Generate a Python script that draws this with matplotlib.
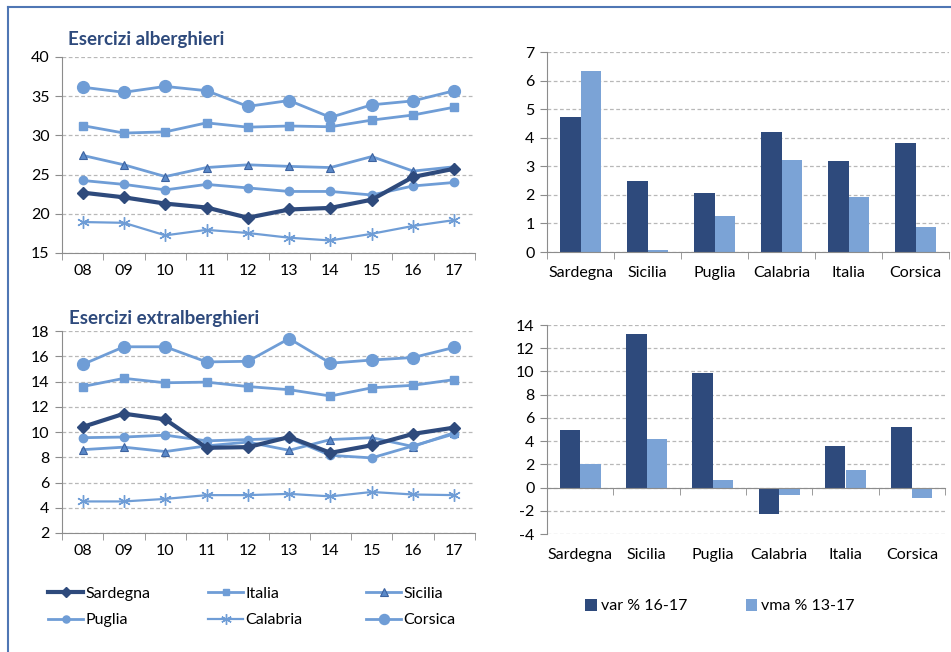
import numpy as np
import matplotlib.pyplot as plt
from matplotlib.lines import Line2D

plt.rcParams['font.family'] = ['Lato', 'DejaVu Sans']
plt.rcParams['axes.unicode_minus'] = False

# years and series (hotel / non-hotel)
years = ['08', '09', '10', '11', '12', '13', '14', '15', '16', '17']
alb_sardegna = [22.7, 22.1, 21.3, 20.8, 19.5, 20.55, 20.75, 21.8, 24.7, 25.75]
alb_italia = [31.25, 30.3, 30.45, 31.6, 31.05, 31.2, 31.1, 31.95, 32.6, 33.6]
alb_sicilia = [27.45, 26.25, 24.75, 25.9, 26.25, 26.05, 25.9, 27.3, 25.45, 26.0]
alb_puglia = [24.25, 23.75, 23.05, 23.75, 23.3, 22.85, 22.85, 22.4, 23.55, 24.0]
alb_calabria = [18.95, 18.85, 17.25, 17.95, 17.55, 16.95, 16.6, 17.45, 18.45, 19.2]
alb_corsica = [36.15, 35.5, 36.25, 35.7, 33.7, 34.45, 32.3, 33.9, 34.4, 35.7]

ext_sardegna = [10.4, 11.45, 11.0, 8.75, 8.8, 9.6, 8.35, 8.95, 9.85, 10.35]
ext_italia = [13.6, 14.25, 13.9, 13.95, 13.6, 13.35, 12.85, 13.5, 13.7, 14.15]
ext_sicilia = [8.6, 8.8, 8.45, 8.9, 9.2, 8.55, 9.4, 9.55, 8.85, 9.95]
ext_puglia = [9.55, 9.6, 9.75, 9.3, 9.4, 9.5, 8.15, 7.95, 8.9, 9.85]
ext_calabria = [4.5, 4.5, 4.7, 5.0, 5.0, 5.1, 4.9, 5.25, 5.05, 5.0]
ext_corsica = [15.35, 16.75, 16.75, 15.55, 15.6, 17.4, 15.45, 15.7, 15.9, 16.7]

regions = ['Sardegna', 'Sicilia', 'Puglia', 'Calabria', 'Italia', 'Corsica']
alb_var = [4.72, 2.48, 2.05, 4.21, 3.18, 3.82]
alb_vma = [6.34, 0.06, 1.26, 3.23, 1.92, 0.87]
ext_var = [5.0, 13.2, 9.84, -2.28, 3.57, 5.2]
ext_vma = [2.02, 4.22, 0.67, -0.64, 1.53, -0.93]

dark = '#2E4A7C'
light = '#6F9DD6'
barlight = '#7BA3D6'
gridc = '#B8B8B8'
axc = '#8C8C8C'
fs = 11.5

W, H = 951, 652
fig = plt.figure(figsize=(W / 100, H / 100), dpi=100)


def box(l, t, r, b):
    return [l / W, 1 - b / H, (r - l) / W, (b - t) / H]


def style(ax):
    for s in ['top', 'right']:
        ax.spines[s].set_visible(False)
    for s in ['left', 'bottom']:
        ax.spines[s].set_color(axc)
    ax.yaxis.grid(True, color=gridc, linestyle=(0, (3, 2)), linewidth=0.9)
    ax.set_axisbelow(True)
    ax.tick_params(axis='y', length=5, color=axc, labelsize=fs, pad=4)
    ax.tick_params(axis='x', which='major', length=0, labelsize=fs, pad=8)
    ax.tick_params(axis='x', which='minor', length=5, color=axc)


def line_chart(ax, s, ylim, yticks):
    x = np.arange(len(years))
    ax.plot(x, s[5], color=light, lw=2, marker='o', ms=8.5, label='Corsica')
    ax.plot(x, s[1], color=light, lw=2, marker='s', ms=5.5, label='Italia')
    ax.plot(x, s[2], color=light, lw=2, marker='^', ms=6, mfc='#5A89C8', mec='#3D63A0', mew=0.8, label='Sicilia')
    ax.plot(x, s[3], color=light, lw=2, marker='o', ms=6, label='Puglia')
    ax.plot(x, s[4], color=light, lw=1.6, marker=(6, 2, 0), ms=9, mew=1, label='Calabria')
    ax.plot(x, s[0], color=dark, lw=3, marker='D', ms=6.5, label='Sardegna', zorder=5)
    ax.set_xlim(-0.5, len(years) - 0.5)
    ax.set_ylim(*ylim)
    ax.set_yticks(yticks)
    ax.set_xticks(x)
    ax.set_xticklabels(years)
    ax.set_xticks(np.arange(-0.5, len(years)), minor=True)
    style(ax)


def bar_chart(ax, var, vma, ylim, yticks):
    x = np.arange(len(regions))
    w = 0.31
    ax.bar(x - w / 2, var, w, color=dark, label='var % 16-17')
    ax.bar(x + w / 2, vma, w, color=barlight, label='vma % 13-17')
    ax.set_xlim(-0.5, len(regions) - 0.5)
    ax.set_ylim(*ylim)
    ax.set_yticks(yticks)
    ax.set_xticks(np.arange(-0.5, len(regions)), minor=True)
    style(ax)


ax1 = fig.add_axes(box(62, 57, 475, 253))
line_chart(ax1, [alb_sardegna, alb_italia, alb_sicilia, alb_puglia, alb_calabria, alb_corsica],
           (15, 40), range(15, 41, 5))
fig.text(68 / W, 1 - 40 / H, 'Esercizi alberghieri', color=dark, fontweight='bold',
         fontsize=13.5, va='center', ha='left')

ax2 = fig.add_axes(box(62, 331, 475, 533))
line_chart(ax2, [ext_sardegna, ext_italia, ext_sicilia, ext_puglia, ext_calabria, ext_corsica],
           (2, 18), range(2, 19, 2))
fig.text(69 / W, 1 - 318 / H, 'Esercizi extralberghieri', color=dark, fontweight='bold',
         fontsize=13.5, va='center', ha='left')

ax3 = fig.add_axes(box(547, 52, 949, 252))
bar_chart(ax3, alb_var, alb_vma, (0, 7), range(0, 8))
ax3.set_xticks(np.arange(len(regions)))
ax3.set_xticklabels(regions)
ax3.tick_params(axis='x', which='major', pad=10)

ax4 = fig.add_axes(box(547, 325, 945, 534))
bar_chart(ax4, ext_var, ext_vma, (-4, 14), range(-4, 15, 2))
ax4.spines['bottom'].set_position(('data', 0))
ax4.set_xticks([])
ax4.set_xticks(np.arange(-0.5, len(regions)), minor=True)
sec = ax4.secondary_xaxis('bottom')
sec.set_xticks(np.arange(len(regions)))
sec.set_xticklabels(regions)
sec.spines['bottom'].set_visible(False)
sec.tick_params(length=0, labelsize=fs, pad=10)

# line legend: three fixed-width columns like the original
hl, ll = ax1.get_legend_handles_labels()
hmap = dict(zip(ll, hl))
columns = [['Sardegna', 'Puglia'], ['Italia', 'Calabria'], ['Sicilia', 'Corsica']]
col_x = [48, 208, 366]
for names, cx in zip(columns, col_x):
    fig.legend([hmap[k] for k in names], names, loc='center left',
               bbox_to_anchor=(cx / W, 1 - 607 / H), frameon=False, fontsize=fs,
               handlelength=2.2, handletextpad=0.12, labelspacing=0.75,
               borderpad=0, borderaxespad=0, markerscale=0.85)

# bar legend
hb, lb = ax4.get_legend_handles_labels()
fig.legend(hb, lb, ncol=2, loc='center left', bbox_to_anchor=(571 / W, 1 - 606 / H),
           frameon=False, fontsize=fs, handlelength=0.7, handleheight=0.8,
           handletextpad=0.25, columnspacing=3.7)

# frame
fig.add_artist(Line2D([8 / W, 1], [1 - 7 / H, 1 - 7 / H], color='#4F76B4', lw=1.5))
fig.add_artist(Line2D([8 / W, 8 / W], [0, 1 - 7 / H], color='#4F76B4', lw=1.5))

fig.savefig('out.png', dpi=100)
